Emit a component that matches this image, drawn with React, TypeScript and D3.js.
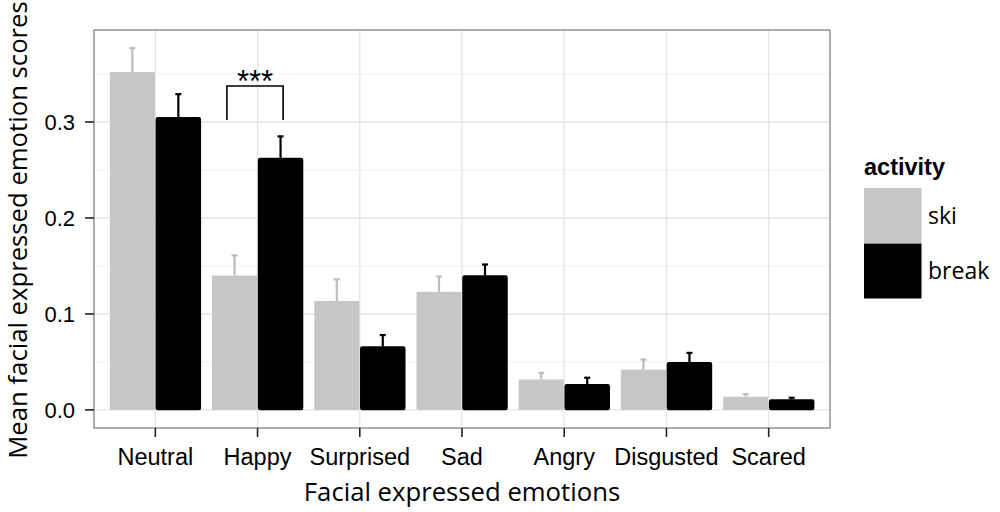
import * as d3 from 'd3'
import { type ReactElement } from 'react'

const emotions = ['Neutral', 'Happy', 'Surprised', 'Sad', 'Angry', 'Disgusted', 'Scared']
const activities = ['ski', 'break']
const skiMeans = [0.352, 0.14, 0.1135, 0.123, 0.0317, 0.042, 0.0137]
const skiUpper = [0.377, 0.161, 0.136, 0.139, 0.0387, 0.0525, 0.0164]
const breakMeans = [0.305, 0.2625, 0.066, 0.14, 0.0268, 0.0497, 0.0109]
const breakUpper = [0.329, 0.285, 0.078, 0.1515, 0.0335, 0.0594, 0.0127]
const yTicks = [0, 0.1, 0.2, 0.3]
const yMinor = [0.05, 0.15, 0.25, 0.35]
const sigLabel = '***'

const width = 1000
const height = 512
const panel = { left: 94, right: 830, top: 30, bottom: 428 }
const fills: Record<string, string> = { ski: '#c6c6c6', break: '#000000' }
const tickFont = '"Liberation Sans", Arial, sans-serif'
const titleFont = '"Open Sans", "Noto Sans", sans-serif'

export default function App(): ReactElement {
  const x = d3.scalePoint<string>().domain(emotions).range([panel.left, panel.right]).padding(0.6)
  const step = x.step()
  const barW = step * 0.45
  const allUpper = [...skiUpper, ...breakUpper]
  const yMax = d3.max(allUpper) ?? 0.4
  const pad = yMax * 0.05
  const y = d3.scaleLinear().domain([-pad, yMax + pad]).range([panel.bottom, panel.top])

  const series = [
    { key: activities[0], means: skiMeans, upper: skiUpper, offset: -barW },
    { key: activities[1], means: breakMeans, upper: breakUpper, offset: 0 },
  ]

  // bracket over the Happy pair
  const happyX = x('Happy') ?? 0
  const bracketL = happyX - step * 0.3
  const bracketR = happyX + step * 0.25
  const bracketTop = y(0.3375)
  const bracketBottom = y(0.302)

  return (
    <svg
      width={width}
      height={height}
      style={{ position: 'absolute', left: 0, top: 0, background: '#fff' }}
    >
      <rect x={0} y={0} width={width} height={height} fill="#fff" />
      {/* grid */}
      {yMinor.map((v) => (
        <line key={`mn${v}`} x1={panel.left} x2={panel.right} y1={y(v)} y2={y(v)} stroke="#f2f2f2" strokeWidth={1} />
      ))}
      {yTicks.map((v) => (
        <line key={`mj${v}`} x1={panel.left} x2={panel.right} y1={y(v)} y2={y(v)} stroke="#e5e5e5" strokeWidth={1.4} />
      ))}
      {emotions.map((e) => (
        <line key={`gx${e}`} x1={x(e)} x2={x(e)} y1={panel.top} y2={panel.bottom} stroke="#e5e5e5" strokeWidth={1.4} />
      ))}

      {/* bars */}
      {series.map((s) =>
        emotions.map((e, i) => {
          const cx = (x(e) ?? 0) + s.offset
          const isBlack = s.key === 'break'
          return (
            <g key={`${s.key}${e}`}>
              <line
                x1={cx + barW / 2}
                x2={cx + barW / 2}
                y1={y(s.means[i])}
                y2={y(s.upper[i])}
                stroke={isBlack ? '#000' : '#bdbdbd'}
                strokeWidth={2.2}
              />
              <line
                x1={cx + barW / 2 - 3}
                x2={cx + barW / 2 + 3}
                y1={y(s.upper[i])}
                y2={y(s.upper[i])}
                stroke={isBlack ? '#000' : '#bdbdbd'}
                strokeWidth={2.2}
              />
              <rect
                x={cx + (isBlack ? 1 : 0.5)}
                y={y(s.means[i]) + (isBlack ? 0.5 : 0)}
                width={barW - (isBlack ? 2 : 1)}
                height={y(0) - y(s.means[i]) - (isBlack ? 1 : 0)}
                fill={fills[s.key]}
                stroke={isBlack ? '#000' : 'none'}
                strokeWidth={isBlack ? 1.5 : 0}
                strokeLinejoin="round"
                rx={isBlack ? 1.5 : 0}
              />
            </g>
          )
        }),
      )}

      {/* significance bracket */}
      <path
        d={`M${bracketL},${bracketBottom}V${bracketTop}H${bracketR}V${bracketBottom}`}
        fill="none"
        stroke="#000"
        strokeWidth={1.6}
      />
      <text x={(bracketL + bracketR) / 2} y={bracketTop + 6} textAnchor="middle" fontFamily={tickFont} fontSize={31}>
        {sigLabel}
      </text>

      {/* panel border */}
      <rect
        x={panel.left}
        y={panel.top}
        width={panel.right - panel.left}
        height={panel.bottom - panel.top}
        fill="none"
        stroke="#8a8a8a"
        strokeWidth={1.4}
      />

      {/* y axis */}
      {yTicks.map((v) => (
        <g key={`yt${v}`}>
          <line x1={panel.left - 9} x2={panel.left} y1={y(v)} y2={y(v)} stroke="#222" strokeWidth={1.6} />
          <text x={panel.left - 19} y={y(v)} dy="0.36em" textAnchor="end" fontFamily={tickFont} fontSize={22} fill="#000">
            {d3.format('.1f')(v)}
          </text>
        </g>
      ))}

      {/* x axis */}
      {emotions.map((e) => (
        <g key={`xt${e}`}>
          <line x1={x(e)} x2={x(e)} y1={panel.bottom} y2={panel.bottom + 9} stroke="#222" strokeWidth={1.6} />
          <text x={x(e)} y={panel.bottom + 37} textAnchor="middle" fontFamily={tickFont} fontSize={23.5} fill="#000">
            {e}
          </text>
        </g>
      ))}

      {/* axis titles */}
      <text x={(panel.left + panel.right) / 2} y={501} textAnchor="middle" fontFamily={titleFont} fontSize={25.7} fill="#000">
        Facial expressed emotions
      </text>
      <text
        transform={`translate(27,230) rotate(-90)`}
        textAnchor="middle"
        fontFamily={titleFont}
        fontSize={25.7}
        fill="#000"
      >
        Mean facial expressed emotion scores
      </text>

      {/* legend */}
      <text x={864} y={175} fontFamily={tickFont} fontWeight="bold" fontSize={23.5} fill="#000">
        activity
      </text>
      {activities.map((a, i) => (
        <g key={`lg${a}`}>
          <rect x={864} y={188 + i * 55.5} width={57.5} height={55} fill={fills[a]} />
          <text x={928} y={188 + i * 55.5 + 27.5} dy="0.36em" fontFamily={titleFont} fontSize={23} fill="#000">
            {a}
          </text>
        </g>
      ))}
    </svg>
  )
}
